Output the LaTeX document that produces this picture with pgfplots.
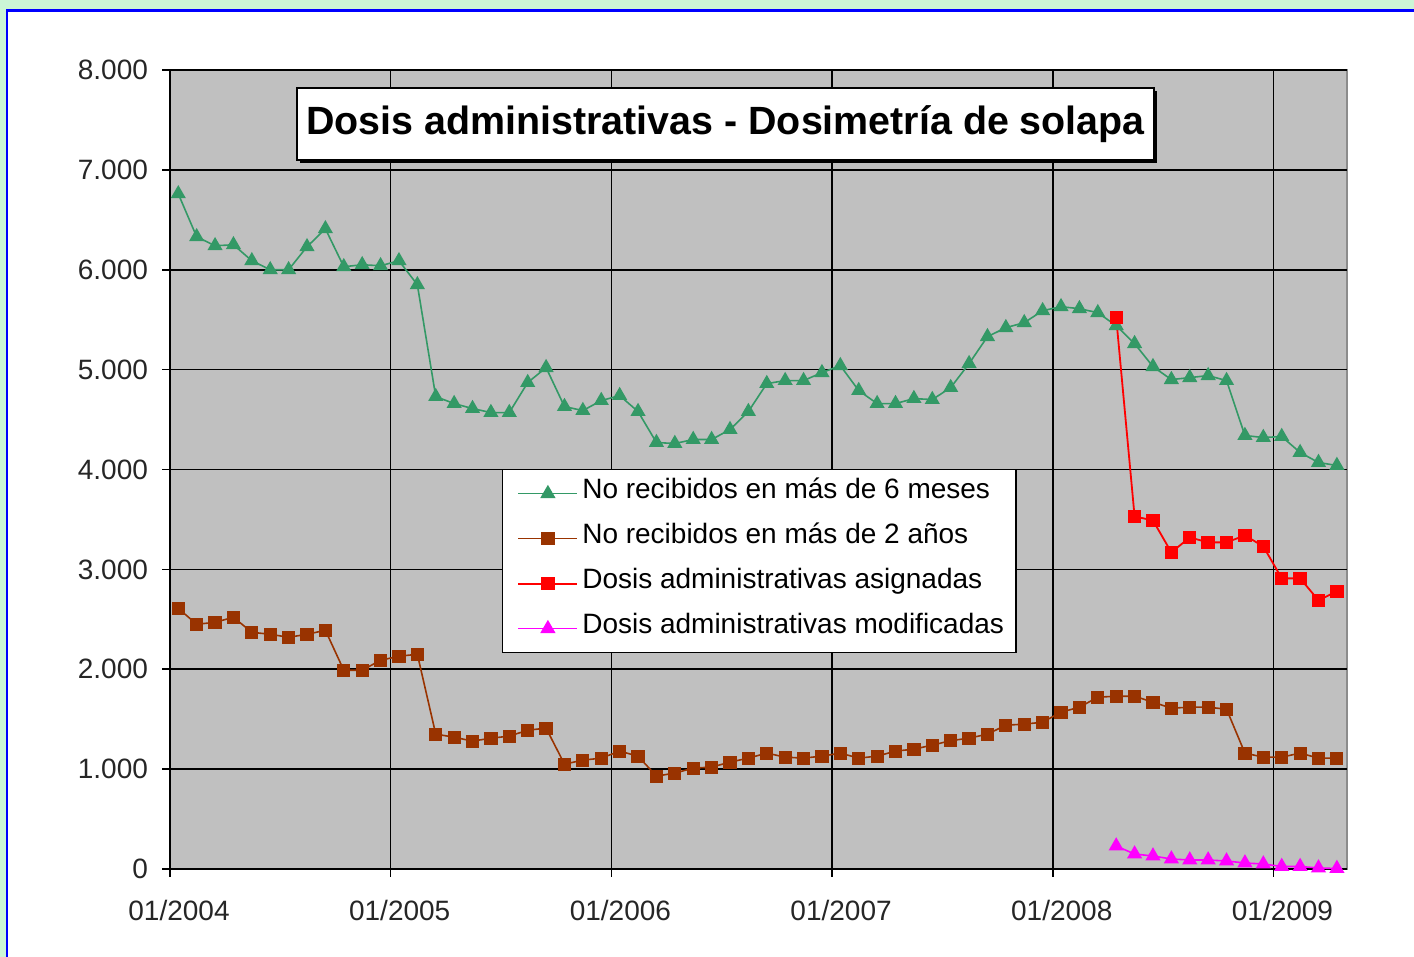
\documentclass[border=0pt]{standalone}
\usepackage{pgfplots}
\pgfplotsset{compat=1.18}
\usepackage{fontspec}
\setmainfont{Liberation Sans}
\usetikzlibrary{shadows}
\definecolor{bggreen}{RGB}{204,246,214}
\definecolor{plotgray}{RGB}{192,192,192}
\definecolor{sgreen}{RGB}{51,153,102}
\definecolor{sbrown}{RGB}{153,51,0}
\definecolor{mag}{RGB}{255,0,255}

\pgfplotstableread{
x y
0.45 6760
1.45 6330
2.45 6240
3.45 6250
4.45 6090
5.45 6000
6.45 6000
7.45 6230
8.45 6410
9.45 6030
10.45 6050
11.45 6040
12.45 6090
13.45 5850
14.45 4730
15.45 4660
16.45 4610
17.45 4570
18.45 4570
19.45 4870
20.45 5020
21.45 4630
22.45 4590
23.45 4690
24.45 4740
25.45 4580
26.45 4270
27.45 4260
28.45 4300
29.45 4300
30.45 4400
31.45 4580
32.45 4860
33.45 4890
34.45 4890
35.45 4970
36.45 5040
37.45 4790
38.45 4660
39.45 4660
40.45 4710
41.45 4700
42.45 4820
43.45 5060
44.45 5330
45.45 5420
46.45 5470
47.45 5590
48.45 5630
49.45 5610
50.45 5570
51.45 5440
52.45 5260
53.45 5030
54.45 4900
55.45 4920
56.45 4940
57.45 4890
58.45 4340
59.45 4320
60.45 4330
61.45 4170
62.45 4070
63.45 4040
}\greendata

\pgfplotstableread{
x y
0.45 2610
1.45 2450
2.45 2470
3.45 2520
4.45 2370
5.45 2350
6.45 2320
7.45 2350
8.45 2390
9.45 1990
10.45 1990
11.45 2090
12.45 2130
13.45 2150
14.45 1350
15.45 1320
16.45 1280
17.45 1310
18.45 1330
19.45 1390
20.45 1410
21.45 1050
22.45 1090
23.45 1110
24.45 1180
25.45 1130
26.45 930
27.45 960
28.45 1010
29.45 1020
30.45 1070
31.45 1110
32.45 1160
33.45 1120
34.45 1110
35.45 1130
36.45 1160
37.45 1110
38.45 1130
39.45 1180
40.45 1200
41.45 1240
42.45 1285
43.45 1310
44.45 1350
45.45 1440
46.45 1450
47.45 1470
48.45 1570
49.45 1620
50.45 1720
51.45 1730
52.45 1730
53.45 1670
54.45 1610
55.45 1620
56.45 1620
57.45 1600
58.45 1160
59.45 1120
60.45 1120
61.45 1160
62.45 1110
63.45 1110
}\browndata

\pgfplotstableread{
x y
51.45 5520
52.45 3530
53.45 3490
54.45 3170
55.45 3320
56.45 3270
57.45 3270
58.45 3340
59.45 3230
60.45 2910
61.45 2910
62.45 2690
63.45 2780
}\reddata

\pgfplotstableread{
x y
51.45 230
52.45 150
53.45 130
54.45 100
55.45 90
56.45 90
57.45 80
58.45 60
59.45 50
60.45 25
61.45 25
62.45 10
63.45 5
}\magdata

\begin{document}
\begin{tikzpicture}
\useasboundingbox (0,0) rectangle (707pt,478.5pt);
\fill[bggreen] (0,0) rectangle (707pt,478.5pt);
\begin{scope}
\clip (0,0) rectangle (707pt,478.5pt);
\draw[blue, line width=1.3pt, fill=white] (3.5pt,-20pt) rectangle (730pt,473.3pt);
\end{scope}
\begin{axis}[
  at={(85pt,44pt)}, anchor=south west,
  width=588.5pt, height=399.5pt, scale only axis,
  xmin=0, xmax=64, ymin=0, ymax=8000,
  clip=false,
  axis background/.style={fill=plotgray, draw=black!45, line width=0.6pt},
  axis x line*=bottom, axis y line*=left,
  axis line style={black, line width=0.8pt},
  xtick={0,12,24,36,48,60},
  xticklabels={01/2004,01/2005,01/2006,01/2007,01/2008,01/2009},
  ytick={0,1000,...,8000},
  scaled y ticks=false,
  grid=major,
  major grid style={black, line width=0.8pt},
  tick align=outside,
  major tick length=4pt,
  tick style={black, line width=0.8pt},
  /pgf/number format/.cd, 1000 sep={.}, assume math mode=true, /pgfplots/.cd,
  ticklabel style={font=\fontsize{14}{16}\selectfont, text=black!85},
  xticklabel style={xshift=4.5pt, yshift=-8pt},
  yticklabel style={xshift=-3.5pt},
  legend cell align=left,
  legend image code/.code={\path (0pt,0pt); \draw[mark repeat=2,mark phase=2,#1] plot coordinates {(3.5pt,0pt) (18.25pt,0pt) (33pt,0pt)};},
  legend style={at={(0.282,0.5006)}, anchor=north west, draw=black, line width=0.6pt, fill=white,
    font=\fontsize{14}{16}\selectfont, inner xsep=4pt, inner ysep=5pt, row sep=8.5pt,
    nodes={inner sep=2pt, text height=0.75em, text depth=0.25em},
    /tikz/every even column/.append style={column sep=3.5pt}},
]
\addplot[sgreen, line width=0.8pt, mark=triangle*, mark size=3.6pt, mark options={solid}] table[x=x,y=y] {\greendata};
\addlegendentry{No recibidos en más de 6 meses}
\addplot[sbrown, line width=0.8pt, mark=square*, mark size=2.9pt, mark options={solid}] table[x=x,y=y] {\browndata};
\addlegendentry{No recibidos en más de 2 años}
\addplot[red, line width=0.9pt, mark=square*, mark size=2.9pt, mark options={solid}] table[x=x,y=y] {\reddata};
\addlegendentry{Dosis administrativas asignadas}
\addplot[mag, line width=0.8pt, mark=triangle*, mark size=3.6pt, mark options={solid}] table[x=x,y=y] {\magdata};
\addlegendentry{Dosis administrativas modificadas}
\node[draw=black, line width=0.8pt, fill=white, minimum width=428.5pt, minimum height=36pt,
  general shadow={fill=black, shadow xshift=1.5pt, shadow yshift=-1.5pt},
  font=\bfseries\fontsize{19.7}{22}\selectfont, inner sep=0pt]
  at (rel axis cs:0.472,0.9324) {Dosis administrativas - Dosimetría de solapa};
\end{axis}
\end{tikzpicture}
\end{document}
